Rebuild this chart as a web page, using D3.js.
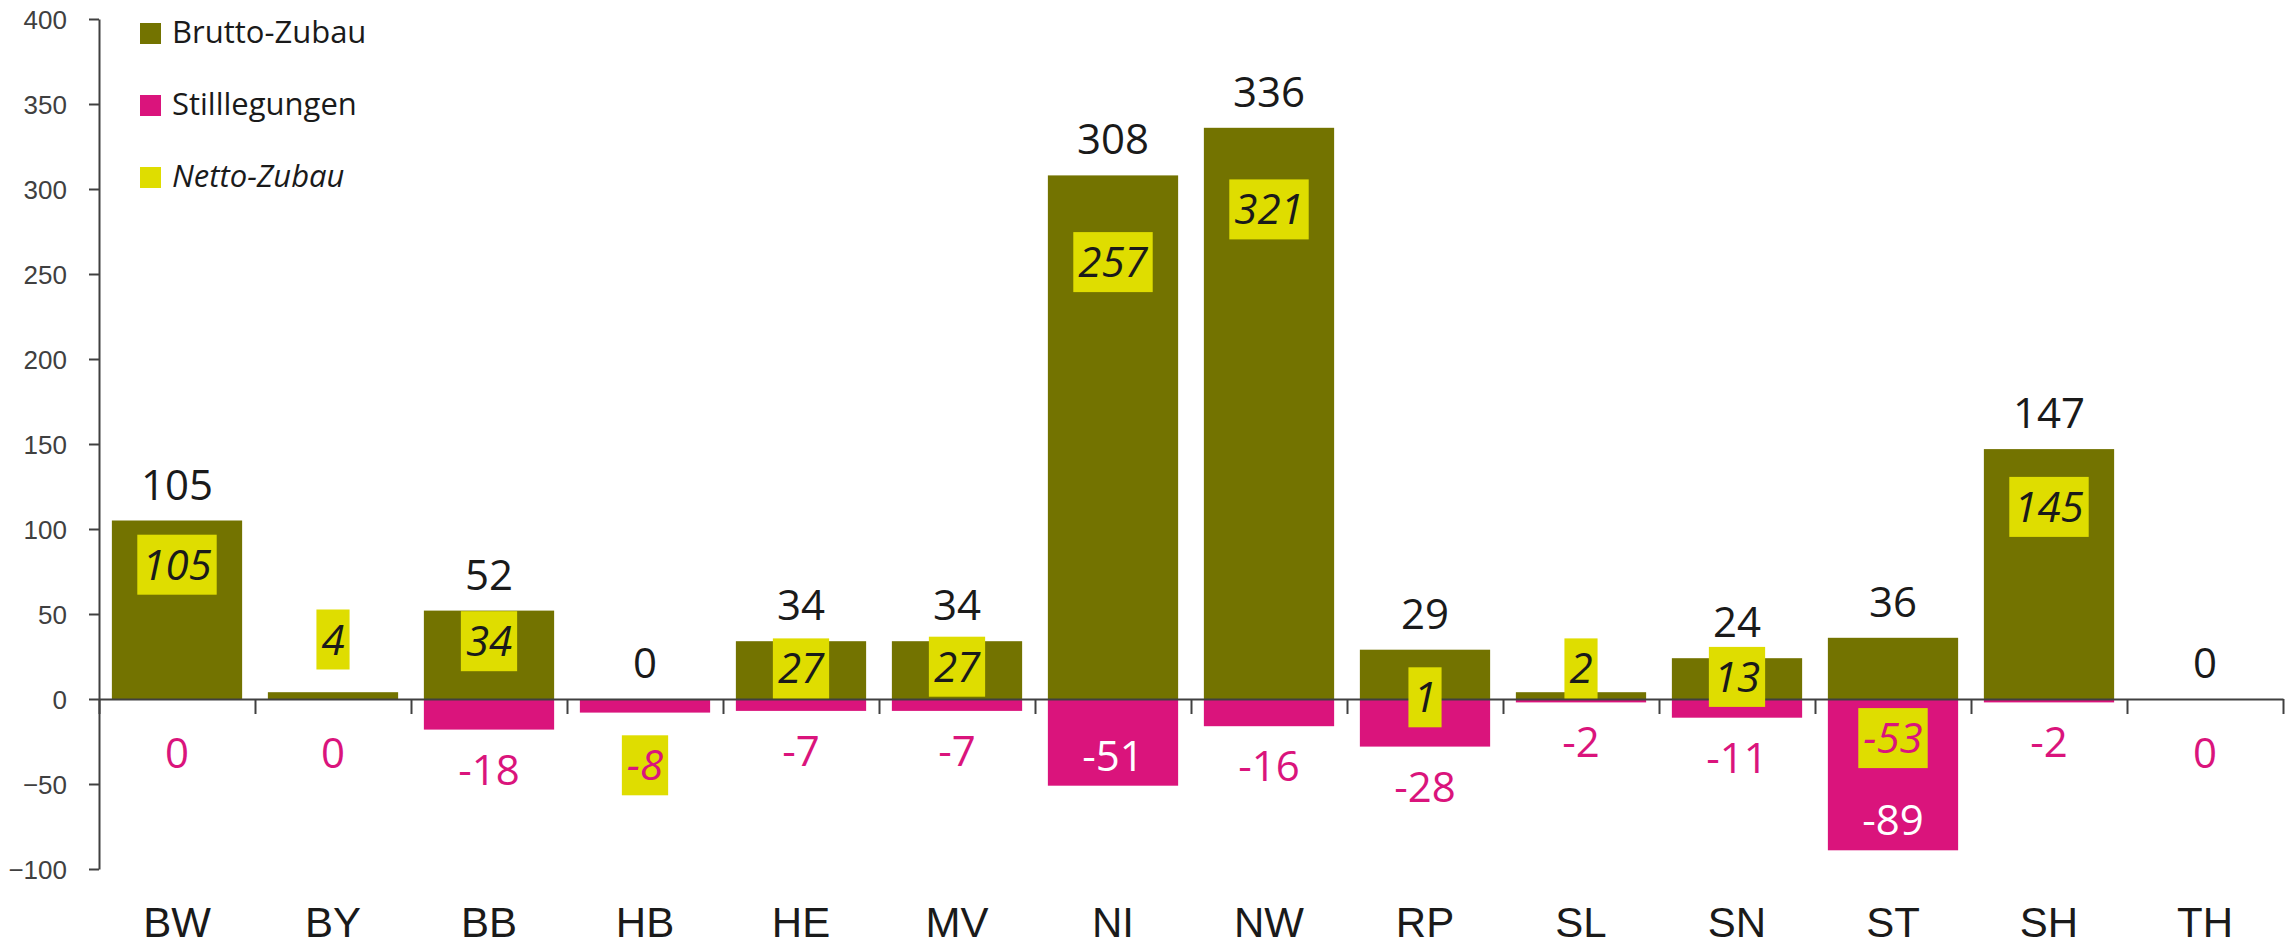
<!DOCTYPE html>
<html>
<head>
<meta charset="utf-8">
<script src="https://cdn.jsdelivr.net/npm/d3@7"></script>
<style>
  html, body { margin: 0; padding: 0; background: #fff; }
  svg { display: block; font-family: "Open Sans", "Noto Sans", sans-serif; }
</style>
</head>
<body>
<svg id="chart" width="2293" height="949"></svg>
<script>
// ---- data ----
const categories = ["BW","BY","BB","HB","HE","MV","NI","NW","RP","SL","SN","ST","SH","TH"];
const brutto = [105, 4, 52, 0, 34, 34, 308, 336, 29, 4, 24, 36, 147, 0];
const stilllegungen = [0, 0, -18, -8, -7, -7, -51, -16, -28, -2, -11, -89, -2, 0];
const netto = [105, 4, 34, -8, 27, 27, 257, 321, 1, 2, 13, -53, 145, null];
const yTickValues = [-100, -50, 0, 50, 100, 150, 200, 250, 300, 350, 400];
const legendLabels = ["Brutto-Zubau", "Stilllegungen", "Netto-Zubau"];

// ---- layout (label anchors for the netto boxes, in value units) ----
const nettoLabelAnchor = [79, 35, 34, -39, 18, 19, 257, 288, 1, 18, 13, -23, 113, null];

const colBrutto = "#737300";
const colStill = "#DA147C";
const colNetto = "#DFDD00";
const colText = "#1a1a1a";
const colAxis = "#404040";

const svg = d3.select("#chart");
const x0 = 99, x1 = 2283;
const y = d3.scaleLinear().domain([-100, 400]).range([869, 19]);
const x = d3.scaleBand().domain(categories).range([x0, x1]).padding(0);
const barW = x.bandwidth() * 0.835;
const cx = c => x(c) + x.bandwidth() / 2;

const rows = categories.map((c, i) => ({c, b: brutto[i], s: stilllegungen[i], n: netto[i], a: nettoLabelAnchor[i]}));

// bars
svg.append("g").selectAll("rect").data(rows).join("rect")
  .attr("x", d => cx(d.c) - barW / 2)
  .attr("width", barW)
  .attr("y", d => y(Math.max(0, d.b)))
  .attr("height", d => Math.abs(y(d.b) - y(0)))
  .attr("fill", colBrutto);

svg.append("g").selectAll("rect").data(rows).join("rect")
  .attr("x", d => cx(d.c) - barW / 2)
  .attr("width", barW)
  .attr("y", y(0))
  .attr("height", d => Math.abs(y(d.s) - y(0)))
  .attr("fill", colStill);

// y axis
const yAxis = svg.append("g").attr("transform", `translate(${x0},0)`)
  .call(d3.axisLeft(y).tickValues(yTickValues).tickSize(10).tickSizeOuter(0).tickPadding(22).tickFormat(d3.format("d")));
yAxis.select(".domain").attr("stroke", colAxis).attr("stroke-width", 2);
yAxis.selectAll(".tick line").attr("stroke", colAxis).attr("stroke-width", 2);
yAxis.selectAll(".tick text").attr("fill", colAxis).style("font-size", "26px").attr("dy", "0.36em");

// x axis: boundary ticks
const xIdx = d3.scaleLinear().domain([0, categories.length]).range([x0, x1]);
const xAxis = svg.append("g").attr("transform", `translate(0,${y(0)})`)
  .call(d3.axisBottom(xIdx).tickValues(d3.range(categories.length + 1)).tickSize(15).tickSizeOuter(0).tickFormat(""));
xAxis.select(".domain").attr("stroke", colAxis).attr("stroke-width", 2);
xAxis.selectAll(".tick line").attr("stroke", colAxis).attr("stroke-width", 2);

// category labels
const xLab = svg.append("g").attr("transform", `translate(0,${y(0)})`)
  .call(d3.axisBottom(x).tickSize(0).tickPadding(208));
xLab.select(".domain").remove();
xLab.selectAll(".tick text").attr("fill", colText).style("font-size", "42px");

// brutto labels (above bars)
const bLabels = svg.append("g").selectAll("text").data(rows).join("text")
  .attr("x", d => cx(d.c))
  .attr("y", d => y(d.b) - 21)
  .attr("text-anchor", "middle")
  .attr("fill", colText)
  .style("font-size", "42px")
  .text(d => d.b);

// stilllegungen labels
const sLabels = svg.append("g").selectAll("text").data(rows).join("text")
  .attr("x", d => cx(d.c))
  .attr("y", d => {
    if (d.s <= -40) return y(d.s) - 15;
    if (d.s === 0) return y(0) + 69;
    return y(d.s) + 55;
  })
  .attr("text-anchor", "middle")
  .attr("fill", d => d.s <= -40 ? "#ffffff" : colStill)
  .style("font-size", "42px")
  .text(d => d.s);

// netto labels (yellow boxes)
const ng = svg.append("g").selectAll("g").data(rows.filter(d => d.n !== null)).join("g")
  .attr("transform", d => `translate(${cx(d.c)},${y(d.a)})`);
ng.append("rect").attr("fill", colNetto);
ng.append("text")
  .attr("text-anchor", "middle")
  .attr("y", 15)
  .attr("fill", d => d.n < 0 ? colStill : colText)
  .style("font-size", "42px")
  .style("font-style", "italic")
  .text(d => d.n);
const boxes = [];
ng.each(function(d) {
  const g = d3.select(this);
  const w = g.select("text").node().getComputedTextLength() + 10;
  g.select("rect").attr("x", -w / 2).attr("width", w).attr("y", -30).attr("height", 60);
  const bx = cx(d.c), by = y(d.a);
  boxes.push({x0: bx - w / 2, x1: bx + w / 2, y0: by - 30, y1: by + 30});
});

// labels hidden behind a netto box are not drawn (as in the source chart)
function hiddenBehindBox(node) {
  const bb = node.getBBox();
  const area = bb.width * bb.height;
  return boxes.some(b => {
    const ox = Math.max(0, Math.min(bb.x + bb.width, b.x1) - Math.max(bb.x, b.x0));
    const oy = Math.max(0, Math.min(bb.y + bb.height, b.y1) - Math.max(bb.y, b.y0));
    return ox * oy > 0.5 * area;
  });
}
bLabels.filter(function() { return hiddenBehindBox(this); }).remove();
sLabels.filter(function() { return hiddenBehindBox(this); }).remove();

// legend
const legColors = [colBrutto, colStill, colNetto];
const lg = svg.append("g").selectAll("g").data(legendLabels).join("g")
  .attr("transform", (d, i) => `translate(140,${23 + i * 72})`);
lg.append("rect").attr("width", 21).attr("height", 21).attr("fill", (d, i) => legColors[i]);
lg.append("text").attr("x", 32).attr("y", 20).attr("fill", colText)
  .style("font-size", "31px")
  .style("font-style", (d, i) => i === 2 ? "italic" : "normal")
  .text(d => d);
</script>
</body>
</html>
